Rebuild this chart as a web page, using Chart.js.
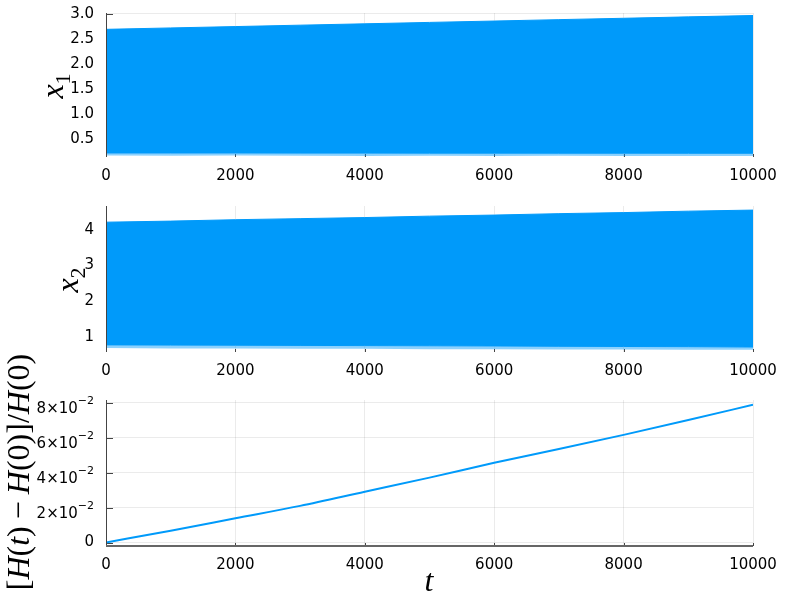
<!DOCTYPE html>
<html>
<head>
<meta charset="utf-8">
<script src="https://cdn.jsdelivr.net/npm/chart.js@4.4.0/dist/chart.umd.min.js"></script>
<style>
html,body{margin:0;padding:0;background:#fff;}
#wrap{position:relative;width:800px;height:600px;overflow:hidden;background:#fff;}
canvas{position:absolute;left:0;}
</style>
</head>
<body>
<div id="wrap">
<canvas id="c1" width="800" height="190" style="top:0px"></canvas>
<canvas id="c2" width="800" height="195" style="top:190px"></canvas>
<canvas id="c3" width="800" height="260" style="top:340px"></canvas>
</div>
<script>
// ---- data ----
const T = [0,1000,2000,3000,4000,5000,6000,7000,8000,9000,10000];
const X1_UPPER  = [2.69,2.718,2.745,2.773,2.80,2.828,2.855,2.883,2.91,2.938,2.965];
const X1_LOWER  = [0.23,0.23,0.23,0.228,0.228,0.226,0.226,0.225,0.225,0.224,0.224];
const X1_FRINGE = [0.18,0.175,0.18,0.175,0.17,0.175,0.17,0.175,0.17,0.17,0.17];
const X2_UPPER  = [4.22,4.25,4.29,4.32,4.35,4.39,4.42,4.46,4.49,4.53,4.56];
const X2_LOWER  = [0.77,0.765,0.76,0.755,0.75,0.745,0.74,0.73,0.725,0.72,0.71];
const X2_FRINGE = [0.68,0.67,0.67,0.66,0.66,0.65,0.65,0.64,0.64,0.63,0.63];
const REL_ERR   = [0,0.0068,0.0139,0.0210,0.0291,0.0372,0.0457,0.0536,0.0617,0.0702,0.0790];
const X_TICKS   = [0,2000,4000,6000,8000,10000];
const X1_TICKS  = [0.5,1.0,1.5,2.0,2.5,3.0];
const X2_TICKS  = [1,2,3,4];
const ERR_TICKS = [0,0.02,0.04,0.06,0.08];

const BLUE = '#009AFA';
const FRINGE = 'rgba(0,154,250,0.45)';
const GRID = 'rgba(0,0,0,0.08)';
const AXIS = '#444';
Chart.defaults.font.family = '"DejaVu Sans", sans-serif';
Chart.defaults.font.size = 15;
Chart.defaults.color = '#000';

const pts = (ys) => T.map((t,i)=>({x:t, y:ys[i]}));

function drawRuns(ctx, runs, x, y, rot){
  ctx.save(); ctx.translate(x,y); ctx.rotate(rot);
  let total = 0;
  runs.forEach(r=>{ ctx.font = r.font; r.w = ctx.measureText(r.t).width + (r.sp||0)*2; total += r.w; });
  let u = -total/2;
  ctx.textBaseline = 'alphabetic'; ctx.textAlign = 'left'; ctx.fillStyle = '#000';
  runs.forEach(r=>{ ctx.font = r.font; ctx.fillText(r.t, u + (r.sp||0), r.dy||0); u += r.w; });
  ctx.restore();
}
const MI = 'italic 32px "Liberation Serif", serif';
const MR = '32px "Liberation Serif", serif';
const MS = '22px "Liberation Serif", serif';

function decor(o){
  return {
    id: 'decor',
    beforeDatasetsDraw(chart){
      const {ctx, chartArea:a, scales:{x,y}} = chart;
      ctx.save(); ctx.strokeStyle = AXIS; ctx.lineWidth = 1;
      ctx.beginPath();
      y.ticks.forEach(tk=>{ const py = Math.round(y.getPixelForValue(tk.value))+0.5; ctx.moveTo(a.left, py); ctx.lineTo(a.left+7, py); });
      x.ticks.forEach(tk=>{ const px = Math.round(x.getPixelForValue(tk.value))+0.5; ctx.moveTo(px, a.bottom); ctx.lineTo(px, a.bottom-3); });
      ctx.stroke(); ctx.restore();
    },
    afterDatasetsDraw(chart){
      const {ctx, chartArea:a, scales:{x,y}} = chart;
      ctx.save();
      ctx.strokeStyle = AXIS; ctx.lineWidth = 1;
      ctx.beginPath(); ctx.moveTo(a.left+0.5, a.top); ctx.lineTo(a.left+0.5, a.bottom); ctx.stroke();
      if (o.bottomSpine){
        ctx.strokeStyle = '#666'; ctx.lineWidth = 2;
        ctx.beginPath(); ctx.moveTo(a.left, a.bottom); ctx.lineTo(a.right, a.bottom); ctx.stroke();
      }
      if (o.sciTicks){
        ctx.fillStyle = '#000';
        y.ticks.forEach(tk=>{
          const py = y.getPixelForValue(tk.value);
          const right = a.left - 12;
          if (tk.value === 0){
            ctx.font = '15px "DejaVu Sans"'; ctx.textAlign='right'; ctx.textBaseline='middle';
            ctx.fillText('0', right, py);
          } else {
            const m = Math.round(tk.value/0.01);
            ctx.font = '11px "DejaVu Sans"'; ctx.textAlign='right'; ctx.textBaseline='alphabetic';
            const ex = '\u22122';
            const we = ctx.measureText(ex).width;
            ctx.fillText(ex, right, py+1);
            ctx.font = '15px "DejaVu Sans"';
            ctx.fillText(m + '\u00d710', right - we, py+10);
          }
        });
      }
      o.labels && o.labels(ctx);
      ctx.restore();
    }
  };
}

function opts(c){
  return {
    responsive:false, animation:false,
    layout:{padding:{top:c.padTop, right:47, left:0, bottom:0}},
    plugins:{legend:{display:false}, tooltip:{enabled:false}},
    elements:{point:{radius:0}},
    scales:{
      x:{type:'linear', min:0, max:10000,
        afterBuildTicks:s=>{ s.ticks = X_TICKS.map(v=>({value:v})); },
        afterFit:s=>{ s.height = c.xH; },
        grid:{color:GRID, lineWidth:1, drawTicks:true, tickLength:10, tickColor:'rgba(0,0,0,0)'},
        border:{display:false},
        ticks:{padding:0, maxRotation:0, autoSkip:false, callback:v=>String(v)}},
      y:{type:'linear', min:c.ymin, max:c.ymax,
        afterBuildTicks:s=>{ s.ticks = c.yticks.map(v=>({value:v})); },
        afterFit:s=>{ s.width = 106; },
        grid:{color:GRID, lineWidth:1, drawTicks:true, tickLength:12, tickColor:'rgba(0,0,0,0)'},
        border:{display:false},
        ticks:{display:!c.ylabelsHidden, padding:0, autoSkip:false, callback:c.yfmt}}
    }
  };
}

function fitArea(chart, c){
  for (let i=0;i<4;i++){
    const a = chart.chartArea;
    const dt = a.top - c.top, db = a.bottom - c.bottom;
    if (Math.abs(dt) < 0.5 && Math.abs(db) < 0.5) break;
    chart.options.layout.padding.top = Math.max(0, chart.options.layout.padding.top - dt);
    c.xH = c.xH + db;
    chart.update();
  }
}

function bandDatasets(up, lo, fr){
  return [
    {data:pts(up), borderColor:BLUE, borderWidth:1, fill:false, pointRadius:0, tension:0},
    {data:pts(lo), borderColor:BLUE, borderWidth:1, backgroundColor:BLUE, fill:'-1', pointRadius:0, tension:0},
    {data:pts(fr), borderColor:'rgba(0,0,0,0)', borderWidth:0, backgroundColor:FRINGE, fill:'-1', pointRadius:0, tension:0}
  ];
}

const c1 = {ymin:0.15, ymax:3.015, yticks:X1_TICKS, yfmt:v=>v.toFixed(1), padTop:13, xH:33, top:13, bottom:157};
const ch1 = new Chart(document.getElementById('c1'), {
  type:'line',
  data:{datasets:bandDatasets(X1_UPPER, X1_LOWER, X1_FRINGE)},
  options:opts(c1),
  plugins:[decor({labels:(ctx)=>{
    drawRuns(ctx, [{t:'x', font:MI},{t:'1', font:MS, dy:7}], 63, 86, -Math.PI/2);
  }})]
});
fitArea(ch1, c1);

const c2 = {ymin:0.57, ymax:4.675, yticks:X2_TICKS, yfmt:v=>String(v), padTop:16, xH:33, top:16, bottom:162};
const ch2 = new Chart(document.getElementById('c2'), {
  type:'line',
  data:{datasets:bandDatasets(X2_UPPER, X2_LOWER, X2_FRINGE)},
  options:opts(c2),
  plugins:[decor({labels:(ctx)=>{
    drawRuns(ctx, [{t:'x', font:MI},{t:'2', font:MS, dy:7}], 78, 90, -Math.PI/2);
  }})]
});
fitArea(ch2, c2);

const c3 = {ymin:-0.002, ymax:0.0817, yticks:ERR_TICKS, yfmt:v=>String(v), padTop:60, xH:54, top:60, bottom:206, ylabelsHidden:true};
const ch3 = new Chart(document.getElementById('c3'), {
  type:'line',
  data:{datasets:[{data:pts(REL_ERR), borderColor:BLUE, borderWidth:2, fill:false, pointRadius:0, cubicInterpolationMode:'monotone'}]},
  options:opts(c3),
  plugins:[decor({bottomSpine:true, sciTicks:true, labels:(ctx)=>{
    drawRuns(ctx, [
      {t:'[', font:MR},{t:'H', font:MI},{t:'(', font:MR},{t:'t', font:MI},{t:')', font:MR},
      {t:'\u2212', font:MR, sp:7},
      {t:'H', font:MI},{t:'(0)]/', font:MR},{t:'H', font:MI},{t:'(0)', font:MR}
    ], 29, 132, -Math.PI/2);
    drawRuns(ctx, [{t:'t', font:MI}], 429, 251, 0);
  }})]
});
fitArea(ch3, c3);
</script>
</body>
</html>
